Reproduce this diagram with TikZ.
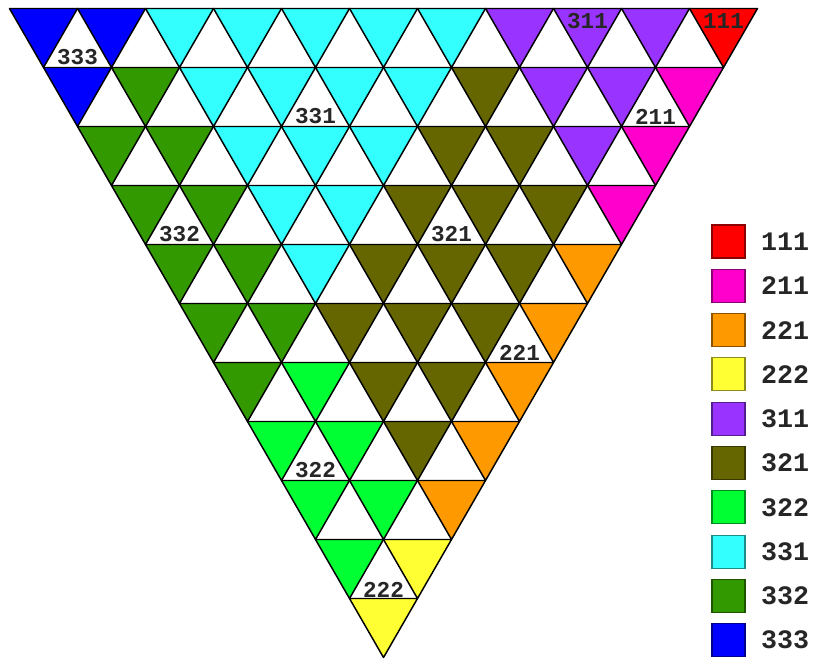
\documentclass[tikz,border=0pt]{standalone}
\usepackage{fontspec}
\setmonofont{Liberation Mono}
\definecolor{cR}{HTML}{FF0000}
\definecolor{cM}{HTML}{FF00CC}
\definecolor{cA}{HTML}{FF9900}
\definecolor{cY}{HTML}{FFFF33}
\definecolor{cP}{HTML}{9933FF}
\definecolor{cO}{HTML}{666600}
\definecolor{cL}{HTML}{00FF33}
\definecolor{cC}{HTML}{33FFFF}
\definecolor{cG}{HTML}{339900}
\definecolor{cB}{HTML}{0000FF}
\begin{document}
\begin{tikzpicture}[x=0.75pt,y=-0.75pt,
  tri/.style={draw=black,line width=1.1pt,line join=round},
  lab/.style={font=\ttfamily\bfseries\fontsize{17}{17}\selectfont,inner sep=0pt,text=black!85},
  legsq/.style={minimum size=24.75pt,inner sep=0pt,line width=0.8pt},
  legtxt/.style={font=\ttfamily\bfseries\fontsize{20}{20}\selectfont,inner sep=0pt,text=black!85}]
\useasboundingbox (0,0) rectangle (814,660);
\def\xo{9.5}\def\yo{8.5}
\foreach \r/\cols in {0/{B,B,C,C,C,C,C,P,P,P,R},1/{B,G,C,C,C,C,O,P,P,M},2/{G,G,C,C,C,O,O,P,M},3/{G,G,C,C,O,O,O,M},4/{G,G,C,O,O,O,A},5/{G,G,O,O,O,A},6/{G,L,O,O,A},7/{L,L,O,A},8/{L,L,A},9/{L,Y},10/{Y}}{
  \foreach \c [count=\k from 0] in \cols {
    \draw[tri,fill=c\c] ({\xo+34*\r+68*\k},{\yo+59*\r}) -- ++(68,0) -- ++(-34,59) -- cycle;
  }
}
% labels in the triangle
\node[lab] (t333) at (77.5,57) {333};
\node[lab] (t331) at (315.5,116.5) {331};
\node[lab] (t211) at (655.5,116.5) {211};
\node[lab] (t311) at (587.5,21.5) {311};
\node[lab] (t111) at (723.5,21.5) {111};
\node[lab] (t332) at (179.5,234.5) {332};
\node[lab] (t321) at (451.5,234.5) {321};
\node[lab] (t221) at (519.5,353) {221};
\node[lab] (t322) at (315.5,470.5) {322};
\node[lab] (t222) at (383.5,589.5) {222};
% legend
\foreach \c/\t [count=\i from 0] in {R/111,M/211,A/221,Y/222,P/311,O/321,L/322,C/331,G/332,B/333}{
  \node[legsq,fill=c\c,draw=c\c!55!black] (sq\t) at (728.5,{241.5+44.3*\i}) {};
  \node[legtxt] (lg\t) at (785,{241.5+44.3*\i}) {\t};
}
\end{tikzpicture}
\end{document}
